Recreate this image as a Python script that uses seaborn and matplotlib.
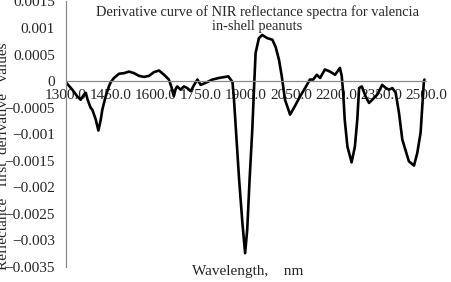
import numpy as np
import pandas as pd
import seaborn as sns
import matplotlib.pyplot as plt

# wavelength (nm) and first derivative values
wavelength = [1300, 1304, 1321, 1338, 1349, 1360, 1366, 1372, 1382, 1388, 1399, 1408,
              1416, 1421, 1432, 1443, 1449, 1460, 1477, 1493, 1510, 1527, 1543, 1560,
              1577, 1593, 1610, 1627, 1643, 1652, 1659, 1666, 1671, 1682, 1693, 1704,
              1716, 1727, 1738, 1749, 1766, 1788, 1810, 1841, 1849, 1855, 1860, 1866,
              1877, 1888, 1897, 1904, 1912, 1921, 1927, 1932, 1943, 1954, 1971, 1988,
              1999, 2010, 2019, 2030, 2047, 2063, 2080, 2097, 2113, 2124, 2136, 2147,
              2163, 2180, 2197, 2213, 2219, 2224, 2229, 2238, 2252, 2263, 2271, 2277,
              2286, 2299, 2310, 2321, 2338, 2354, 2366, 2377, 2388, 2399, 2410, 2421,
              2443, 2460, 2471, 2482, 2493, 2495]
deriv_e4 = [-0.2, -0.5, -1.6, -2.9, -3.5, -2.5, -2.2, -3.5, -5.0, -5.4, -7.2, -9.3,
            -7.2, -5.4, -2.9, -1.0, -0.2, 0.6, 1.4, 1.5, 1.8, 1.5, 1.0, 0.8,
            1.0, 1.7, 2.0, 1.2, 0.3, -1.2, -2.8, -1.4, -1.0, -1.6, -1.0, -1.3,
            -1.9, -0.7, 0.3, -0.7, -0.3, 0.3, 0.6, 0.9, 0.3, -0.2, -3.5, -8.8,
            -18.5, -26.7, -32.4, -28.0, -18.5, -9.1, -1.0, 5.3, 8.1, 8.7, 8.1, 7.8,
            6.4, 4.0, 1.0, -3.5, -6.3, -4.7, -2.9, -1.3, 0.3, 0.3, 1.2, 0.6,
            2.2, 1.8, 1.2, 2.5, 1.0, -2.2, -7.2, -12.3, -15.3, -12.3, -7.2, -1.3,
            -1.0, -2.9, -4.1, -3.5, -2.5, -0.7, -1.3, -1.6, -1.3, -2.2, -6.0, -11.0,
            -15.1, -15.9, -13.5, -9.7, 0.0, 0.3]
x_ticks = [1300, 1450, 1600, 1750, 1900, 2050, 2200, 2350, 2500]
y_ticks = [0.0015, 0.001, 0.0005, 0, -0.0005, -0.001, -0.0015, -0.002, -0.0025, -0.003, -0.0035]
y_labels = ['0.0015', '0.001', '0.0005', '0', '\u22120.0005', '\u22120.001', '\u22120.0015',
            '\u22120.002', '\u22120.0025', '\u22120.003', '\u22120.0035']

df = pd.DataFrame({'wl': wavelength, 'val': np.array(deriv_e4) * 1e-4})

sns.set_style('white')
plt.rcParams['font.family'] = ['Liberation Serif', 'DejaVu Serif']
grey = '#8a8a8a'

fig = plt.figure(figsize=(4.52, 2.82), dpi=100)
ax = fig.add_axes([66 / 452, 1 - 267 / 282, (426 - 66) / 452, (267 - 1.5) / 282])
sns.lineplot(data=df, x='wl', y='val', ax=ax, color='black', linewidth=1.9,
             sort=False, estimator=None)

ax.set_xlim(1300, 2500)
ax.set_ylim(-0.0035, 0.0015)
ax.spines['top'].set_visible(False)
ax.spines['right'].set_visible(False)
ax.spines['bottom'].set_position(('data', 0))
for s in ['left', 'bottom']:
    ax.spines[s].set_color(grey)
    ax.spines[s].set_linewidth(0.9)

ax.set_xticks(x_ticks)
ax.set_xticklabels(['%.1f' % t for t in x_ticks])
ax.set_yticks(y_ticks)
ax.set_yticklabels(y_labels)
ax.tick_params(axis='x', direction='in', length=4, width=0.9, color=grey,
               labelsize=11, pad=6)
ax.tick_params(axis='y', direction='out', length=4, width=0.9, color=grey,
               labelsize=11, pad=4)
ax.set_xlabel('')
ax.set_ylabel('')

fig.text(257 / 452, 1 - 19 / 282,
         'Derivative curve of NIR reflectance spectra for valencia\nin-shell peanuts',
         ha='center', va='center', fontsize=10.4, linespacing=1.15)
fig.text(248 / 452, 1 - 272 / 282, 'Wavelength,    nm', ha='center', va='center',
         fontsize=11)
fig.text(4 / 452, 1 - 156 / 282, 'Reflectance   first  derivative   values',
         rotation=90, ha='center', va='center', fontsize=11)

fig.savefig('out.png', dpi=100)
